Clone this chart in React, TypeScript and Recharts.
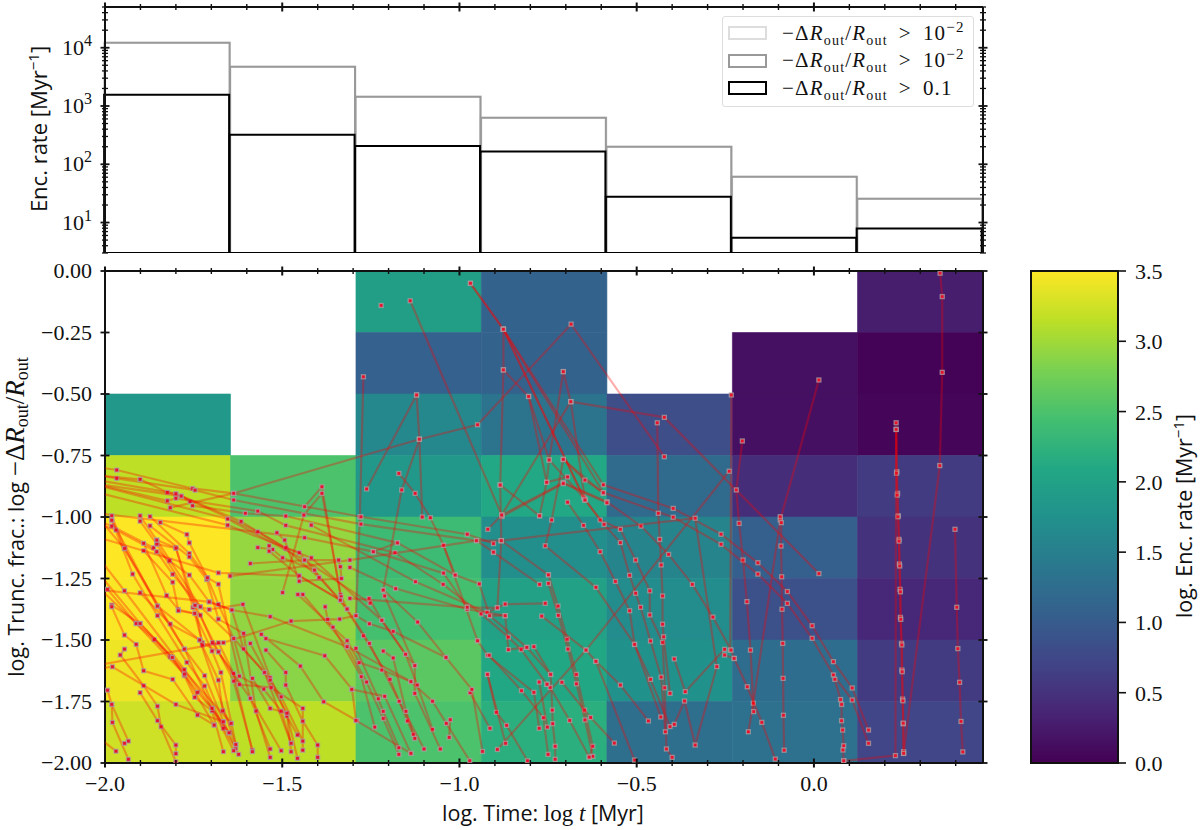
import { Bar, ComposedChart, BarChart, Legend, ReferenceArea, Scatter, ScatterChart, XAxis, YAxis } from 'recharts'

const timeDomain = [-2, 0.477]
const binEdges = [-2, -1.646, -1.292, -0.938, -0.584, -0.23, 0.123, 0.477]
const fracEdges = [0, -0.25, -0.5, -0.75, -1, -1.25, -1.5, -1.75, -2]

// enc. rates of the upper panel, one value per time bin
const binNames = ['b1', 'b2', 'b3', 'b4', 'b5', 'b6', 'b7']
const rateFaint = [12200, 4720, 1440, 630, 200, 61, 25.7]
const rateGrey = [12200, 4720, 1440, 630, 200, 61, 25.7]
const rateBlack = [1560, 322, 205, 165, 27.7, 5.5, 7.9]
const legendValues = [['10', '−2'], ['10', '−2'], ['0.1', '']]
const legendColors = ['#dddddd', '#999999', '#000000']

// log rate per time bin (columns), top row first
const heatColumns: (number | null)[][] = [
  [null, null, 1.85, 3.15, 3.5, 3.48, 3.42, 3.25],
  [null, null, null, 2.5, 2.94, 2.92, 2.88, 3.15],
  [1.95, 1.08, 1.63, 1.85, 2.38, 2.45, 2.6, 2.5],
  [1.1, 1.1, 1.35, 2.1, 1.72, 2.0, 2.08, 2.2],
  [null, null, 0.83, 1.22, 1.57, 1.7, 1.75, 1.27],
  [null, 0.15, 0.15, 0.45, 1.05, 0.85, 1.25, 1.3],
  [0.28, 0.02, 0.05, 0.6, 0.5, 0.38, 0.6, 0.72],
]

const viridis = ['#440154', '#482475', '#414487', '#355f8d', '#2a788e', '#21918c', '#22a884', '#44bf70', '#7ad151', '#bddf26', '#fde725']

const timeTicks = [-2, -1.9, -1.8, -1.7, -1.6, -1.5, -1.4, -1.3, -1.2, -1.1, -1, -0.9, -0.8, -0.7, -0.6, -0.5, -0.4, -0.3, -0.2, -0.1, 0, 0.1, 0.2, 0.3, 0.4]
const fracTicks = [-2, -1.75, -1.5, -1.25, -1, -0.75, -0.5, -0.25, 0]
const rateTicks = [3, 4, 5, 6, 7, 8, 9, 10, 20, 30, 40, 50, 60, 70, 80, 90, 100, 200, 300, 400, 500, 600, 700, 800, 900, 1000, 2000, 3000, 4000, 5000, 6000, 7000, 8000, 9000, 10000, 20000, 30000, 40000, 50000]
const colorTicks = [0, 0.5, 1, 1.5, 2, 2.5, 3, 3.5]

// encounter tracks: [log t, log trunc. frac.]
const tracks: number[][][] = [
  // right hand columns
  [[0.232, -0.617], [0.234, -0.816], [0.236, -0.904], [0.238, -0.995], [0.24, -1.091], [0.241, -1.191], [0.243, -1.294], [0.244, -1.408], [0.247, -1.514], [0.248, -1.622], [0.25, -1.74], [0.252, -1.841], [0.253, -1.961]],
  [[0.232, -0.644], [0.233, -0.822], [0.235, -0.911], [0.237, -0.999], [0.24, -1.098], [0.242, -1.199], [0.244, -1.304], [0.245, -1.416], [0.248, -1.52], [0.249, -1.629], [0.251, -1.747], [0.252, -1.838], [0.253, -1.954]],
  [[0.232, -0.644], [0.23, -1.97], [0.084, -1.991]],
  [[0.356, -0.009], [0.362, -0.104], [0.362, -0.412], [0.355, -0.791], [0.253, -1.961]],
  [[0.398, -1.05], [0.403, -1.367], [0.406, -1.535], [0.411, -1.672], [0.415, -1.831], [0.42, -1.955]],
  [[-0.686, -0.531], [-0.422, -0.595], [0.014, -1.23]],
  [[0.014, -0.443], [-0.095, -1.012], [-0.171, -1.757], [-0.185, -1.873]],
  [[-0.095, -0.999], [-0.092, -1.023], [-0.093, -1.118], [-0.091, -1.243], [-0.09, -1.375], [-0.088, -1.514], [-0.087, -1.656], [-0.086, -1.806], [-0.084, -1.948]],
  [[-0.202, -0.691], [-0.219, -0.89], [-0.211, -1.026], [-0.2, -1.175], [-0.189, -1.344], [-0.179, -1.541], [-0.17, -1.791]],
  [[-0.233, -0.504], [-0.236, -1.541]],
  [[-0.239, -0.814], [-0.643, -1.541], [-0.893, -1.945]],
  [[-0.969, -0.05], [-0.876, -0.237], [-0.594, -0.869], [-0.397, -0.965], [-0.262, -1.07], [-0.158, -1.186], [-0.075, -1.303], [-0.005, -1.442], [0.055, -1.588], [0.108, -1.695], [0.154, -1.866]],
  [[-0.969, -0.05], [-0.876, -0.237], [-0.594, -0.901], [-0.397, -1.001], [-0.262, -1.111], [-0.158, -1.232], [-0.075, -1.351], [-0.005, -1.493], [0.055, -1.642], [0.108, -1.744], [0.154, -1.92]],
  [[0.059, -1.66], [0.075, -1.742], [0.078, -1.762], [0.078, -1.828], [0.081, -1.866], [0.084, -1.93], [0.082, -1.947], [0.084, -1.991]],
  [[-0.881, -0.992], [-0.707, -0.86], [-0.584, -0.938], [-0.488, -1.037], [-0.41, -1.152], [-0.343, -1.274], [-0.285, -1.407], [-0.234, -1.541], [-0.225, -1.575], [-0.188, -1.69], [-0.147, -1.835], [-0.109, -1.984]],
  [[-0.88, -0.998], [-0.707, -0.864], [-0.584, -0.942]],
  [[-0.882, -1.096], [-0.335, -1.005], [-0.274, -1.608], [-0.335, -1.927], [-0.365, -1.748], [-0.394, -1.843]],
  [[-0.252, -1.538], [-0.363, -1.71], [-0.394, -1.577]],
  [[-0.252, -1.561], [-0.225, -1.575]],
  // middle columns
  [[-0.876, -0.237], [-0.65, -0.92], [-0.603, -1.012], [-0.546, -1.05], [-0.503, -1.175], [-0.463, -1.3], [-0.463, -1.398], [-0.427, -1.51], [-0.421, -1.694], [-0.416, -1.943], [-0.4, -1.977]],
  [[-0.876, -0.237], [-0.646, -0.931], [-0.592, -1.03], [-0.546, -1.104], [-0.52, -1.237], [-0.503, -1.31], [-0.489, -1.367], [-0.461, -1.504], [-0.431, -1.651], [-0.419, -1.873]],
  [[-0.695, -0.94], [-0.65, -1.034], [-0.603, -1.141], [-0.56, -1.262], [-0.52, -1.381], [-0.506, -1.518], [-0.461, -1.66], [-0.406, -1.852]],
  [[-0.442, -0.617], [-0.439, -0.985], [-0.435, -1.091], [-0.431, -1.195], [-0.427, -1.321], [-0.427, -1.436], [-0.424, -1.487], [-0.406, -1.717]],
  [[-0.422, -0.755], [-0.685, -0.216], [-0.949, -0.625], [-1.113, -0.684], [-1.637, -0.904], [-1.816, -0.962]],
  [[-1.139, -0.121], [-0.881, -0.992]],
  [[-1.221, -0.14]],
  [[-0.876, -0.237], [-0.876, -0.402], [-0.885, -0.87], [-0.882, -1.096], [-0.893, -1.369]],
  [[-0.876, -0.402], [-0.805, -0.51], [-0.747, -0.768], [-0.646, -0.927]],
  [[-0.805, -0.51], [-0.754, -0.859], [-0.695, -0.837]],
  [[-0.707, -0.409], [-0.747, -0.768], [-0.754, -0.859], [-0.774, -0.995]],
  [[-0.707, -0.409], [-0.686, -0.531], [-0.646, -0.931]],
  [[-0.686, -0.531], [-0.881, -0.992], [-0.92, -1.05]],
  [[-0.707, -0.766], [-0.594, -0.904]],
  [[-0.707, -0.766], [-0.74, -1.012], [-0.758, -1.117], [-0.615, -1.286], [-0.506, -1.518], [-0.432, -1.813]],
  [[-0.707, -0.766], [-0.646, -0.85], [-0.594, -0.901]],
  [[-0.885, -0.87], [-0.774, -0.995]],
  [[-0.749, -1.235], [-0.722, -1.362], [-0.696, -1.497], [-0.67, -1.64], [-0.647, -1.785], [-0.624, -1.932], [-0.634, -1.976]],
  [[-0.749, -1.27], [-0.721, -1.4], [-0.694, -1.537], [-0.67, -1.678], [-0.646, -1.825], [-0.624, -1.973]],
  [[-0.882, -1.096], [-0.749, -1.235]],
  [[-0.904, -1.144], [-0.774, -1.274]],
  [[-0.768, -1.403], [-0.643, -1.541], [-0.615, -1.587], [-0.506, -1.988]],
  [[-0.615, -1.587], [-0.546, -1.683], [-0.467, -1.829]],
  [[-0.922, -1.388], [-0.871, -1.354], [-0.758, -1.351]],
  [[-0.949, -1.503], [-0.921, -1.562], [-0.79, -1.713], [-0.775, -1.859]],
  [[-0.916, -1.562], [-0.825, -1.706], [-0.763, -1.816], [-0.75, -1.965]],
  [[-0.79, -1.527], [-0.743, -1.64], [-0.738, -1.785], [-0.737, -1.84], [-0.73, -1.932], [-0.73, -1.985]],
  [[-0.753, -1.68], [-0.744, -1.693], [-0.689, -1.827], [-0.634, -1.976]],
  [[-0.711, -1.672], [-0.63, -1.815], [-0.563, -1.919]],
  [[-0.921, -1.64], [-0.896, -1.794], [-0.867, -1.847], [-0.808, -1.991]],
  [[-0.921, -1.64], [-0.87, -1.92]],
  [[-0.97, -1.714], [-0.914, -1.859]],
  [[-0.775, -1.671], [-0.752, -1.854]],
  [[-1.045, -1.115], [-0.949, -1.503]],
  // left and centre columns
  [[-1.271, -0.43], [-1.281, -1.0], [-1.292, -1.401], [-1.254, -1.434], [-1.187, -1.465], [-1.038, -1.571]],
  [[-1.121, -0.504], [-1.262, -0.886]],
  [[-1.121, -0.504], [-1.113, -0.684], [-1.163, -0.89], [-1.215, -1.297]],
  [[-1.113, -0.684], [-1.105, -1.0]],
  [[-1.171, -0.823], [-1.125, -0.904], [-1.082, -1.003], [-1.045, -1.115], [-1.012, -1.236]],
  [[-2.1, -0.78], [-1.967, -0.809], [-1.753, -0.884], [-1.637, -0.904], [-1.278, -0.999], [-0.978, -1.07], [-0.904, -1.108]],
  [[-2.1, -0.81], [-1.967, -0.843], [-1.746, -0.891], [-1.637, -0.931], [-1.278, -1.029], [-0.952, -1.096], [-0.904, -1.143]],
  [[-2.1, -0.82], [-1.901, -0.847], [-1.824, -0.9], [-1.8, -0.908], [-1.785, -0.915], [-1.76, -0.938], [-1.753, -0.954], [-1.604, -0.985], [-1.49, -0.996], [-1.175, -1.105], [-1.012, -1.236], [-0.944, -1.272], [-0.915, -1.401], [-0.81, -1.53], [-0.743, -1.64]],
  [[-2.1, -0.84], [-1.824, -0.934], [-1.8, -0.924], [-1.569, -0.976], [-1.49, -1.034], [-1.182, -1.145], [-1.046, -1.274], [-0.939, -1.394], [-0.862, -1.488], [-0.826, -1.539], [-0.753, -1.68]],
  [[-2.1, -0.83], [-1.8, -0.905], [-1.616, -1.018], [-1.49, -1.129], [-1.396, -1.246], [-1.336, -1.338], [-1.271, -1.483], [-1.196, -1.66], [-1.147, -1.829], [-1.13, -1.884]],
  [[-2.1, -0.85], [-1.785, -0.915], [-1.569, -1.06], [-1.49, -1.125], [-1.452, -1.145], [-1.317, -1.374], [-1.254, -1.514], [-1.17, -1.749], [-1.1, -1.943]],
  [[-2.05, -0.86], [-1.654, -1.008], [-1.437, -1.175], [-1.252, -1.35]],
  [[-2.05, -0.89], [-1.654, -1.033], [-1.418, -1.166], [-1.219, -1.42], [-1.152, -1.558], [-1.126, -1.604]],
  [[-2.05, -0.98], [-1.437, -1.084], [-1.243, -1.141], [-1.045, -1.228], [-0.978, -1.367]],
  [[-1.418, -1.033], [-1.124, -1.263], [-0.922, -1.388], [-0.915, -1.401], [-0.871, -1.401], [-0.862, -1.539], [-0.81, -1.53]],
  [[-1.309, -1.205], [-1.18, -1.291], [-0.978, -1.375], [-0.871, -1.401]],
  [[-1.647, -1.24], [-1.309, -1.175], [-0.952, -1.096], [-0.882, -1.096]],
  [[-1.437, -0.958], [-1.388, -0.877], [-1.336, -1.316], [-1.317, -1.374]],
  [[-1.499, -1.307], [-1.439, -0.992], [-1.388, -0.904], [-1.334, -1.324]],
  [[-1.981, -0.995], [-1.945, -1.128], [-1.852, -1.362], [-1.776, -1.537], [-1.719, -1.645], [-1.666, -1.832], [-1.623, -1.965]],
  [[-1.981, -1.013], [-1.922, -1.232], [-1.852, -1.401], [-1.769, -1.591], [-1.719, -1.687], [-1.666, -1.859], [-1.631, -1.941]],
  [[-1.901, -0.995], [-1.854, -1.094], [-1.8, -1.125], [-1.752, -1.368], [-1.725, -1.511], [-1.68, -1.548], [-1.637, -1.667], [-1.584, -1.948]],
  [[-1.901, -1.017], [-1.854, -1.11], [-1.8, -1.127], [-1.746, -1.359], [-1.725, -1.52], [-1.68, -1.511], [-1.637, -1.636], [-1.584, -1.954]],
  [[-1.873, -0.998], [-1.762, -1.148], [-1.711, -1.247], [-1.68, -1.355], [-1.637, -1.494], [-1.59, -1.737], [-1.534, -1.943]],
  [[-1.873, -1.036], [-1.762, -1.162], [-1.713, -1.254], [-1.68, -1.415], [-1.609, -1.473], [-1.574, -1.789], [-1.534, -1.977]],
  [[-2.08, -0.98], [-1.981, -1.037], [-1.863, -1.125], [-1.818, -1.178], [-1.762, -1.236], [-1.706, -1.345], [-1.642, -1.378], [-1.609, -1.536], [-1.55, -1.632], [-1.487, -1.798], [-1.457, -1.981]],
  [[-2.08, -1.0], [-1.969, -1.053], [-1.854, -1.141], [-1.809, -1.233], [-1.731, -1.365], [-1.706, -1.376], [-1.611, -1.355], [-1.534, -1.653], [-1.487, -1.809], [-1.457, -1.886]],
  [[-1.844, -1.022], [-1.769, -1.071], [-1.762, -1.105], [-1.711, -1.247], [-1.68, -1.273], [-1.621, -1.647], [-1.552, -1.7], [-1.503, -1.789], [-1.475, -1.92]],
  [[-1.891, -1.107], [-1.826, -1.319], [-1.793, -1.376], [-1.731, -1.399], [-1.697, -1.511], [-1.621, -1.681], [-1.531, -1.693], [-1.442, -1.778], [-1.442, -1.948]],
  [[-1.891, -1.137], [-1.809, -1.265], [-1.793, -1.381], [-1.747, -1.392], [-1.698, -1.545], [-1.673, -1.632], [-1.631, -1.925]],
  [[-1.901, -1.308], [-1.816, -1.435], [-1.733, -1.5], [-1.68, -1.663], [-1.668, -1.788], [-1.644, -1.839]],
  [[-1.993, -1.294], [-1.912, -1.433], [-1.861, -1.498], [-1.816, -1.568], [-1.776, -1.639], [-1.739, -1.713], [-1.698, -1.778], [-1.65, -1.877]],
  [[-1.981, -1.358], [-1.901, -1.433], [-1.81, -1.571], [-1.776, -1.645], [-1.747, -1.733], [-1.698, -1.788], [-1.666, -1.954]],
  [[-1.981, -1.365], [-1.945, -1.48], [-1.912, -1.518], [-1.891, -1.625], [-1.809, -1.66], [-1.739, -1.805], [-1.692, -1.846]],
  [[-1.945, -1.537], [-1.957, -1.561], [-1.891, -1.686], [-1.852, -1.769], [-1.842, -1.853], [-1.8, -1.995]],
  [[-1.901, -1.714], [-1.852, -1.828], [-1.8, -1.927], [-1.8, -1.962]],
  [[-2.05, -1.62], [-1.979, -1.609], [-1.8, -1.762], [-1.666, -1.832]],
  [[-1.993, -1.704], [-1.981, -1.762], [-1.979, -1.835], [-1.934, -1.985]],
  [[-2.05, -1.86], [-1.969, -1.952]],
  [[-1.981, -1.762], [-1.934, -1.911], [-1.945, -1.92]],
  [[-1.559, -1.477], [-1.449, -1.606], [-1.383, -1.751], [-1.289, -1.828]],
  [[-1.546, -1.494], [-1.38, -1.564], [-1.303, -1.7], [-1.292, -1.827], [-1.137, -1.961]],
  [[-1.546, -1.541], [-1.49, -1.632], [-1.49, -1.683], [-1.442, -1.83], [-1.4, -1.927], [-1.4, -1.977]],
  [[-1.584, -1.656], [-1.534, -1.778], [-1.487, -1.798], [-1.475, -1.954]],
  [[-1.59, -1.514], [-1.534, -1.663], [-1.503, -1.731], [-1.442, -1.911]],
  [[-1.456, -1.315], [-1.317, -1.503], [-1.283, -1.592], [-1.219, -1.622], [-1.137, -1.669], [-1.076, -1.749], [-1.037, -1.839], [-0.971, -1.991]],
  [[-1.442, -1.315], [-1.317, -1.527], [-1.262, -1.671], [-1.215, -1.819], [-1.171, -1.965]],
  [[-1.379, -1.365], [-1.372, -1.416], [-1.357, -1.448], [-1.277, -1.649], [-1.239, -1.854]],
  [[-1.255, -1.331], [-1.219, -1.42], [-1.152, -1.558], [-1.119, -1.683], [-1.076, -1.863]],
  [[-1.215, -1.297], [-1.118, -1.427], [-1.038, -1.571], [-0.965, -1.701], [-0.935, -1.953]],
  [[-1.211, -1.321], [-1.126, -1.604], [-1.126, -1.717], [-1.054, -1.943]],
  [[-1.292, -1.534], [-1.229, -1.739], [-1.215, -1.79], [-1.171, -1.938]],
  [[-1.215, -1.545], [-1.187, -1.573], [-1.151, -1.79], [-1.126, -1.9]],
  [[-1.304, -1.701], [-1.211, -1.729], [-1.137, -1.961]],
  [[-1.026, -1.824], [-1.029, -1.896]],
  [[-1.309, -1.331], [-0.978, -1.367], [-0.893, -1.369]],
  [[-2.05, -1.29], [-1.706, -1.345], [-1.642, -1.378], [-1.534, -1.405], [-1.317, -1.527], [-1.137, -1.669]],
  [[-2.05, -1.07], [-1.68, -1.227], [-1.452, -1.239], [-1.336, -1.338]],
  [[-2.05, -1.61], [-1.666, -1.511], [-1.475, -1.423], [-1.338, -1.415], [-1.292, -1.401]],
  [[-1.569, -1.124], [-1.527, -1.132], [-1.499, -1.166], [-1.409, -1.216], [-1.396, -1.246]],
  [[-1.537, -1.117], [-1.537, -1.139], [-1.452, -1.239], [-1.336, -1.338]],
  [[-1.515, -1.064], [-1.493, -1.094], [-1.452, -1.261], [-1.333, -1.25]],
  [[-1.59, -1.189], [-1.437, -1.175], [-1.341, -1.175], [-1.336, -1.202], [-1.333, -1.25]],
  [[-1.243, -1.141], [-1.175, -1.105]],
  // steep tracks falling out of the left edge
  [[-2.08, -0.9], [-1.945, -1.128], [-1.776, -1.537], [-1.698, -1.778], [-1.637, -1.95]],
  [[-2.08, -1.05], [-1.945, -1.3], [-1.776, -1.62], [-1.65, -1.877]],
  [[-2.08, -1.2], [-1.912, -1.433], [-1.776, -1.639], [-1.692, -1.846]],
  [[-2.08, -1.12], [-1.901, -1.433], [-1.81, -1.571], [-1.644, -1.839]],
  [[-1.981, -1.013], [-1.852, -1.362], [-1.733, -1.5], [-1.631, -1.925]],
  [[-1.854, -1.11], [-1.746, -1.359], [-1.68, -1.548], [-1.59, -1.737], [-1.503, -1.95]],
  [[-1.854, -1.094], [-1.731, -1.365], [-1.637, -1.494], [-1.55, -1.632], [-1.475, -1.92]],
]

const serif = '"Liberation Serif", serif'
const sans = '"Open Sans", sans-serif'
const ink = '#111'

function heatColor(v: number) {
  const t = (v / 3.5) * 10
  const i = Math.min(9, Math.floor(t))
  const a = viridis[i]
  const b = viridis[i + 1]
  const mix = (k: number) => Math.round(parseInt(a.slice(k, k + 2), 16) * (i + 1 - t) + parseInt(b.slice(k, k + 2), 16) * (t - i))
  return `rgb(${mix(1)},${mix(3)},${mix(5)})`
}

const isMajorTime = (v: number) => Math.abs(v * 2 - Math.round(v * 2)) < 1e-6

const TimeTick = (showLabel: boolean) => (p: any) => {
  const major = isMajorTime(p.payload.value)
  const len = major ? 4.5 : 3
  return (
    <g>
      <line x1={p.x} x2={p.x} y1={p.y - len} y2={p.y + len} stroke={ink} strokeWidth={major ? 2 : 1.4} />
      {showLabel && major && (
        <text x={p.x} y={p.y + 28} textAnchor="middle" fontFamily={serif} fontSize={22} fill={ink}>
          {p.payload.value.toFixed(1).replace('-', '−')}
        </text>
      )}
    </g>
  )
}

const FracTick = (showLabel: boolean) => (p: any) => (
  <g>
    <line x1={p.x - 4.5} x2={p.x + 4.5} y1={p.y} y2={p.y} stroke={ink} strokeWidth={1.8} />
    {showLabel && (
      <text x={p.x - 13} y={p.y + 7} textAnchor="end" fontFamily={serif} fontSize={22} fill={ink}>
        {p.payload.value.toFixed(2).replace('-', '−')}
      </text>
    )}
  </g>
)

const RateTick = (showLabel: boolean) => (p: any) => {
  const exp = Math.log10(p.payload.value)
  const major = Math.abs(exp - Math.round(exp)) < 1e-6
  const len = major ? 4.5 : 3
  return (
    <g>
      <line x1={p.x - len} x2={p.x + len} y1={p.y} y2={p.y} stroke={ink} strokeWidth={major ? 1.8 : 1.3} />
      {showLabel && major && (
        <text x={p.x - 13} y={p.y + 7} textAnchor="end" fontFamily={serif} fontSize={22} fill={ink}>
          10<tspan fontSize={16} dy={-9}>{Math.round(exp)}</tspan>
        </text>
      )}
    </g>
  )
}

const ColorTick = (p: any) => (
  <g>
    <line x1={p.x} x2={p.x + 8} y1={p.y} y2={p.y} stroke={ink} strokeWidth={1.6} />
    <text x={p.x + 17} y={p.y + 8} fontFamily={serif} fontSize={22} fill={ink}>{p.payload.value.toFixed(1)}</text>
  </g>
)

const TrackPoint = (p: any) => (
  <rect x={p.cx - 2} y={p.cy - 2} width={4} height={4} fill="#e8102c" stroke="#a8a8a8" strokeOpacity={0.7} strokeWidth={1.3} />
)

const RLabel = () => (
  <>
    <tspan fontFamily={serif} fontSize={27} fontStyle="italic">R</tspan>
    <tspan fontFamily={serif} fontSize={18} dy={4}>out</tspan>
  </>
)

const TopYLabel = () => (
  <text transform="rotate(-90 47 129)" x={47} y={129} textAnchor="middle" fontFamily={sans} fontSize={22} fill={ink}>
    Enc. rate [Myr<tspan fontSize={15} dy={-8}>−1</tspan><tspan dy={8}>]</tspan>
  </text>
)

const MainYLabel = () => (
  <text transform="rotate(-90 24 262)" x={24} y={262} textAnchor="middle" fontFamily={sans} fontSize={21.5} fill={ink}>
    log. Trunc. frac.: log <tspan fontFamily={serif} fontSize={27}>−Δ</tspan><RLabel />
    <tspan dy={-4} fontFamily={serif} fontSize={27}>/</tspan><RLabel />
  </text>
)

const MainXLabel = () => (
  <text x={543} y={566} textAnchor="middle" fontFamily={sans} fontSize={21.5} fill={ink}>
    log. Time: <tspan fontFamily={serif} fontSize={23}>log </tspan><tspan fontFamily={serif} fontSize={23} fontStyle="italic">t</tspan> [Myr]
  </text>
)

const ColorLabel = () => (
  <text transform="rotate(-90 192 261)" x={192} y={261} textAnchor="middle" fontFamily={sans} fontSize={21.5} fill={ink}>
    log. Enc. rate [Myr<tspan fontSize={15} dy={-8}>−1</tspan><tspan dy={8}>]</tspan>
  </text>
)

const RateLegend = (p: any) => (
  <div style={{ width: 250, height: 89, border: '1.5px solid #ddd', borderRadius: 3, background: 'rgba(255,255,255,0.85)', position: 'relative' }}>
    {(p.payload || []).map((item: any, i: number) => (
      <div key={i} style={{ position: 'absolute', left: 5, top: 9 + i * 27.5, height: 14, display: 'flex', alignItems: 'center', fontFamily: serif, fontSize: 21, letterSpacing: 1.2, whiteSpace: 'nowrap', color: ink }}>
        <span style={{ display: 'inline-block', boxSizing: 'border-box', width: 39, height: 14, border: `2px solid ${legendColors[i]}`, marginRight: 15 }} />
        <span>
          −Δ<i>R</i><sub style={{ fontSize: 14, lineHeight: 0 }}>out</sub>/<i>R</i><sub style={{ fontSize: 14, lineHeight: 0 }}>out</sub>
          <span style={{ margin: '0 11px' }}>{'>'}</span>{legendValues[i][0]}
          <sup style={{ fontSize: 15, lineHeight: 0 }}>{legendValues[i][1]}</sup>
        </span>
      </div>
    ))}
  </div>
)

const rateRows = binNames.map((bin, i) => ({ bin, faint: rateFaint[i], grey: rateGrey[i], black: rateBlack[i] }))
const colorRows = [{ name: 'scale', top: 3.5 }]

const axisLine = { stroke: ink, strokeWidth: 2 }

export default function App() {
  return (
    <div style={{ position: 'absolute', left: 0, top: 0, width: 1200, height: 830, background: '#fff', overflow: 'hidden' }}>
      <div style={{ position: 'absolute', left: 0, top: 0 }}>
        <ComposedChart width={1000} height={270} data={rateRows} barCategoryGap={0} barGap="-100%" margin={{ top: 6, right: 16, bottom: 16, left: 104 }}>
          <XAxis xAxisId="bins" dataKey="bin" type="category" hide />
          <XAxis xAxisId="time" dataKey="t" type="number" domain={timeDomain} allowDataOverflow ticks={timeTicks} interval={0} height={1} tickSize={0} tickMargin={0} tickLine={false} axisLine={axisLine} tick={TimeTick(false)} />
          <XAxis xAxisId="timeTop" dataKey="t" orientation="top" type="number" domain={timeDomain} allowDataOverflow ticks={timeTicks} interval={0} height={1} tickSize={0} tickMargin={0} tickLine={false} axisLine={axisLine} tick={TimeTick(false)} />
          <YAxis yAxisId="rate" scale="log" type="number" domain={[3, 50000]} allowDataOverflow ticks={rateTicks} interval={0} width={1} tickSize={0} tickMargin={0} tickLine={false} axisLine={axisLine} tick={RateTick(true)} label={TopYLabel} />
          <YAxis yAxisId="rateRight" orientation="right" scale="log" type="number" domain={[3, 50000]} allowDataOverflow ticks={rateTicks} interval={0} width={1} tickSize={0} tickMargin={0} tickLine={false} axisLine={axisLine} tick={RateTick(false)} />
          <Legend layout="horizontal" align="center" verticalAlign="middle" content={RateLegend} wrapperStyle={{ left: 722, top: 16, width: 252, height: 91, bottom: 'auto' }} />
          <Bar xAxisId="bins" yAxisId="rate" dataKey="faint" name="faint" fill="none" stroke={legendColors[0]} strokeWidth={2} isAnimationActive={false} />
          <Bar xAxisId="bins" yAxisId="rate" dataKey="grey" name="grey" fill="none" stroke={legendColors[1]} strokeWidth={2} isAnimationActive={false} />
          <Bar xAxisId="bins" yAxisId="rate" dataKey="black" name="black" fill="none" stroke={legendColors[2]} strokeWidth={2} isAnimationActive={false} />
        </ComposedChart>
      </div>

      <div style={{ position: 'absolute', left: 0, top: 255 }}>
        <ScatterChart width={1000} height={575} margin={{ top: 15, right: 16, bottom: 66, left: 104 }}>
          <XAxis dataKey="x" type="number" domain={timeDomain} allowDataOverflow ticks={timeTicks} interval={0} height={1} tickSize={0} tickMargin={0} tickLine={false} axisLine={axisLine} tick={TimeTick(true)} label={MainXLabel} />
          <XAxis xAxisId="top" dataKey="x" orientation="top" type="number" domain={timeDomain} allowDataOverflow ticks={timeTicks} interval={0} height={1} tickSize={0} tickMargin={0} tickLine={false} axisLine={axisLine} tick={TimeTick(false)} />
          <YAxis dataKey="y" type="number" domain={[-2, 0]} allowDataOverflow ticks={fracTicks} interval={0} width={1} tickSize={0} tickMargin={0} tickLine={false} axisLine={axisLine} tick={FracTick(true)} label={MainYLabel} />
          <YAxis yAxisId="right" orientation="right" type="number" domain={[-2, 0]} allowDataOverflow ticks={fracTicks} interval={0} width={1} tickSize={0} tickMargin={0} tickLine={false} axisLine={axisLine} tick={FracTick(false)} />
          {heatColumns.map((column, i) =>
            column.map((v, j) =>
              v === null ? null : (
                <ReferenceArea
                  key={`${i}-${j}`}
                  x1={binEdges[i]}
                  x2={binEdges[i + 1]}
                  y1={fracEdges[j + 1]}
                  y2={fracEdges[j]}
                  fill={heatColor(v)}
                  fillOpacity={1}
                  stroke={heatColor(v)}
                  strokeWidth={0.6}
                />
              ),
            ),
          )}
          {tracks.map((track, i) => (
            <Scatter
              key={i}
              data={track.map(([x, y]) => ({ x, y }))}
              line={{ stroke: '#ff0000', strokeOpacity: 0.32, strokeWidth: 2.2 }}
              lineType="joint"
              shape={TrackPoint}
              isAnimationActive={false}
            />
          ))}
        </ScatterChart>
      </div>

      <div style={{ position: 'absolute', left: 1000, top: 255 }}>
        <BarChart width={200} height={575} data={colorRows} barCategoryGap={0} margin={{ top: 16, right: 81, bottom: 67, left: 31 }}>
          <defs>
            <linearGradient id="viridis" x1="0" y1="1" x2="0" y2="0">
              {viridis.map((c, i) => (
                <stop key={c} offset={i / 10} stopColor={c} />
              ))}
            </linearGradient>
          </defs>
          <XAxis dataKey="name" hide />
          <YAxis orientation="right" type="number" domain={[0, 3.5]} ticks={colorTicks} interval={0} width={1} tickSize={0} tickMargin={0} tickLine={false} axisLine={false} tick={ColorTick} label={ColorLabel} />
          <Bar dataKey="top" fill="url(#viridis)" stroke={ink} strokeWidth={2} isAnimationActive={false} />
        </BarChart>
      </div>
    </div>
  )
}
